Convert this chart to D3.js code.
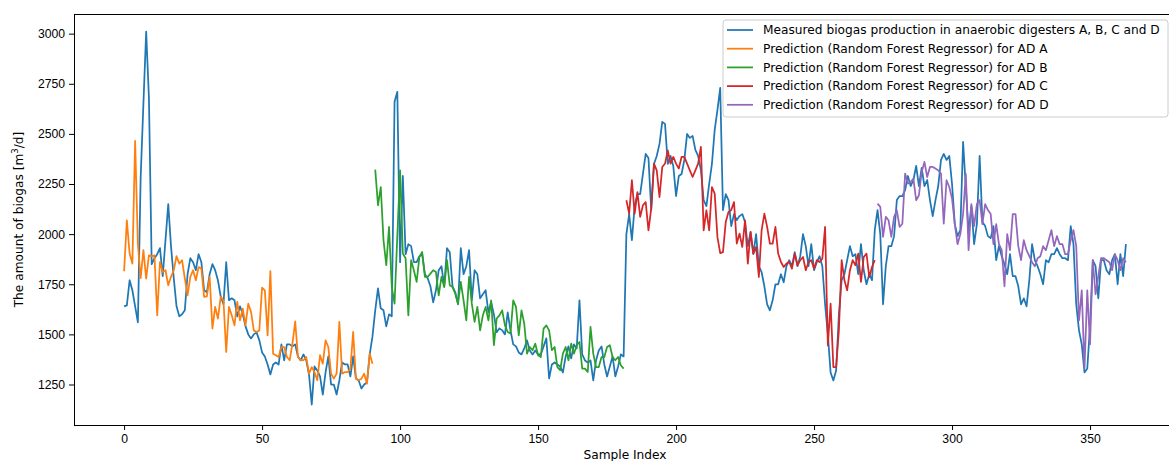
<!DOCTYPE html>
<html>
<head>
<meta charset="utf-8">
<script src="https://cdn.jsdelivr.net/npm/d3@7"></script>
<style>
  html, body { margin: 0; padding: 0; background: #fff; }
  svg { display: block; font-family: "DejaVu Sans", sans-serif; }
  .axis text { font-size: 12.2px; fill: #000; }
  .axis line { stroke: #000; }
</style>
</head>
<body>
<div id="chart"></div>
<script>
// Measured biogas vs Random Forest predictions for four digesters (A..D).

const measured = [
  1640,1645,1770,1720,1640,1560,2280,2650,3010,2680,
  1850,1880,1900,1930,1790,1970,2150,1940,1780,1640,
  1590,1600,1620,1800,1880,1860,1820,1900,1860,1720,
  1710,1800,1850,1820,1770,1690,1650,1860,1670,1680,
  1670,1590,1640,1600,1540,1500,1480,1500,1510,1470,
  1410,1390,1350,1300,1350,1360,1350,1450,1370,1450,
  1450,1440,1450,1390,1370,1400,1370,1300,1150,1340,
  1320,1290,1200,1310,1390,1250,1250,1200,1270,1360,
  1350,1350,1290,1390,1280,1270,1230,1250,1260,1400,
  1490,1620,1730,1630,1620,1540,1600,1590,2660,2710,
  1860,2290,1900,1950,1940,1860,1860,1890,1900,1800,
  1780,1740,1660,1720,1820,1840,1740,1930,1910,1740,
  1710,1650,1930,1800,1840,1920,1670,1820,1800,1680,
  1700,1720,1610,1660,1600,1510,1530,1520,1500,1610,
  1520,1450,1440,1410,1400,1430,1470,1420,1400,1420,
  1400,1400,1440,1480,1280,1350,1360,1350,1340,1310,
  1390,1440,1380,1450,1430,1670,1400,1370,1360,1370,
  1270,1370,1420,1440,1350,1290,1340,1390,1290,1340,
  1400,1390,2000,2100,1970,2140,2200,2200,2300,2400,
  2380,2120,2350,2390,2450,2560,2550,2350,2390,2340,
  2190,2290,2300,2370,2500,2480,2490,2420,2390,2320,
  2170,2140,2250,2350,2520,2620,2730,2120,2200,2170,
  2040,2100,2070,2090,2100,2060,1940,2010,1900,2000,
  1840,1810,1740,1650,1620,1670,1750,1750,1800,1760,
  1840,1870,1840,1910,1840,1890,2000,1940,1840,1950,
  1820,1860,1890,1840,1650,1500,1310,1270,1320,1600,
  1770,1800,1870,1940,1890,1900,1800,1950,1820,1750,
  1800,1770,2020,2120,2000,1650,1840,1940,1940,1990,
  2170,2190,2190,2220,2290,2240,2270,2340,2240,2330,
  2240,2270,2170,2090,2170,2240,2370,2400,2370,2390,
  2250,2050,1990,2020,2460,2230,2010,2140,1950,2050,
  2390,2060,2040,1990,1980,2040,1870,1940,1890,1850,
  1800,1900,1790,1790,1740,1650,1680,1640,1770,1950,
  1870,1840,1800,1750,1870,1860,1900,1900,1930,1900,
  1880,1880,1870,2040,1950,1650,1520,1450,1310,1330,
  1540,1870,1840,1680,1870,1870,1820,1800,1870,1900,
  1750,1900,1790,1950
];

// predictions, AD A starts at sample 0
const predA = [
  1815,2069,1903,1853,2465,1950,1780,1920,1778,1894,
  1890,1894,1595,1861,1811,1820,1745,1787,1820,1890,
  1853,1870,1780,1695,1787,1820,1770,1836,1828,1687,
  1690,1787,1529,1637,1579,1687,1670,1412,1637,1595,
  1545,1662,1570,1628,1545,1653,1612,1520,1512,1520,
  1733,1720,1495,1816,1404,1396,1387,1437,1437,1387,
  1371,1454,1565,1387,1371,1371,1387,1304,1337,1312,
  1271,1396,1354,1470,1437,1304,1279,1304,1562,1304,
  1312,1312,1329,1512,1279,1271,1279,1304,1254,1404,
  1354
];
// AD B starts at sample 91
const predB = [
  2322,2144,2235,1969,1845,2036,1736,1653,1990,2318,
  1903,1880,1595,1870,1820,1762,1886,1911,1787,1787,
  1803,1820,1811,1695,1787,1736,1870,1745,1736,1703,
  1653,1762,1670,1570,1787,1653,1562,1637,1520,1595,
  1637,1570,1670,1446,1579,1595,1620,1545,1512,1504,
  1670,1637,1495,1620,1553,1404,1437,1421,1454,1396,
  1387,1529,1545,1520,1421,1437,1337,1321,1404,1437,
  1371,1454,1404,1446,1462,1329,1329,1312,1537,1404,
  1337,1337,1387,1387,1437,1446,1387,1371,1387,1346,
  1329
];
// AD C starts at sample 182
const predC = [
  2169,2102,2269,2102,2210,2086,2144,2160,2019,2127,
  2352,2318,2185,2335,2352,2418,2352,2385,2352,2327,
  2385,2385,2352,2318,2285,2318,2352,2435,2019,2119,
  2019,2235,2202,1985,1905,1910,2060,2110,2120,2160,
  1953,2003,1936,2069,1853,2011,1903,1936,1786,2019,
  2102,2036,1953,1953,2036,1903,1861,1836,1853,1861,
  1828,1903,1845,1870,1886,1820,1861,1870,1828,1870,
  1861,1878,2036,1445,1653,1337,1337,1520,1870,1770,
  1720,1820,1870,1845,1903,1762,1886,1903,1786,1836,
  1870
];
// AD D starts at sample 273
const predD = [
  2152,2136,1986,2086,2069,1986,2086,2119,2036,2052,
  2302,2252,2260,2277,2169,2194,2310,2360,2285,2335,
  2335,2327,2318,2302,2052,2269,2235,2177,2050,1950,
  2000,2100,2300,1920,2150,2040,2150,2170,2050,2150,
  2120,2100,1950,2050,1950,1920,1740,2000,1920,2100,
  2100,1940,1870,1970,1920,1890,1860,1840,1880,1890,
  1940,1920,1970,2020,1940,1990,1950,1950,1900,1900,
  1970,2020,1940,1570,1720,1330,1720,1450,1870,1700,
  1790,1880,1880,1870,1860,1820,1900,1870,1820,1880,
  1860
];
const predStarts = [0, 91, 182, 273];

const seriesLabels = [
  "Measured biogas production in anaerobic digesters A, B, C and D",
  "Prediction (Random Forest Regressor) for AD A",
  "Prediction (Random Forest Regressor) for AD B",
  "Prediction (Random Forest Regressor) for AD C",
  "Prediction (Random Forest Regressor) for AD D"
];
const colors = ["#1f77b4", "#ff7f0e", "#2ca02c", "#d62728", "#9467bd"];
const xTicks = [0, 50, 100, 150, 200, 250, 300, 350];
const yTicks = [1250, 1500, 1750, 2000, 2250, 2500, 2750, 3000];

const W = 1169, H = 461;
const margin = { top: 14, right: -7, bottom: 36, left: 74 };  // axes run past the right edge
const FS = 12.2;

const svg = d3.select("#chart").append("svg")
  .attr("width", W).attr("height", H);

const x = d3.scaleLinear().domain([-18.15, 381.15]).range([margin.left, W - margin.right]);
const y = d3.scaleLinear().domain([1048, 3098]).range([H - margin.bottom, margin.top]);

// series as [index, value] pairs
const toPts = (vals, start) => vals.map((v, i) => [start + i, v]);
const lines = [
  toPts(measured, 0),
  toPts(predA, predStarts[0]),
  toPts(predB, predStarts[1]),
  toPts(predC, predStarts[2]),
  toPts(predD, predStarts[3])
];

const line = d3.line().x(d => x(d[0])).y(d => y(d[1]));

svg.append("g").selectAll("path").data(lines).join("path")
  .attr("d", line)
  .attr("fill", "none")
  .attr("stroke", (d, i) => colors[i])
  .attr("stroke-width", 1.75)
  .attr("stroke-linejoin", "round");

// axes, matplotlib style (outward ticks)
const gX = svg.append("g").attr("class", "axis")
  .attr("transform", `translate(0,${H - margin.bottom})`)
  .call(d3.axisBottom(x).tickValues(xTicks).tickFormat(d3.format("d"))
    .tickSize(5).tickPadding(4).tickSizeOuter(0));
const gY = svg.append("g").attr("class", "axis")
  .attr("transform", `translate(${margin.left},0)`)
  .call(d3.axisLeft(y).tickValues(yTicks).tickFormat(d3.format("d"))
    .tickSize(5).tickPadding(4).tickSizeOuter(0));
gX.select(".domain").remove();
gY.select(".domain").remove();

// frame
svg.append("rect")
  .attr("x", margin.left + 0.5).attr("y", margin.top + 0.5)
  .attr("width", (W - margin.right) - margin.left).attr("height", (H - margin.bottom) - margin.top)
  .attr("fill", "none").attr("stroke", "#000").attr("stroke-width", 1);

// axis titles
svg.append("text")
  .attr("x", (margin.left + W - margin.right) / 2).attr("y", H - 2)
  .attr("text-anchor", "middle").attr("font-size", FS)
  .text("Sample Index");
const yt = svg.append("text")
  .attr("transform", `translate(23,${(margin.top + H - margin.bottom) / 2}) rotate(-90)`)
  .attr("text-anchor", "middle").attr("font-size", FS);
yt.append("tspan").text("The amount of biogas [m");
yt.append("tspan").attr("font-size", 8.5).attr("dy", -5).text("3");
yt.append("tspan").attr("dy", 5).text("/d]");

// legend
const lg = svg.append("g").attr("transform", "translate(723,20)");
lg.append("rect")
  .attr("width", 445).attr("height", 97).attr("rx", 3)
  .attr("fill", "rgba(255,255,255,0.8)").attr("stroke", "#cccccc");
const rows = lg.selectAll("g.row").data(seriesLabels).join("g")
  .attr("transform", (d, i) => `translate(0,${10 + i * 18.7})`);
rows.append("line")
  .attr("x1", 4).attr("x2", 30)
  .attr("stroke", (d, i) => colors[i]).attr("stroke-width", 1.75);
rows.append("text")
  .attr("x", 40).attr("dy", "0.35em").attr("font-size", FS)
  .text(d => d);
</script>
</body>
</html>
